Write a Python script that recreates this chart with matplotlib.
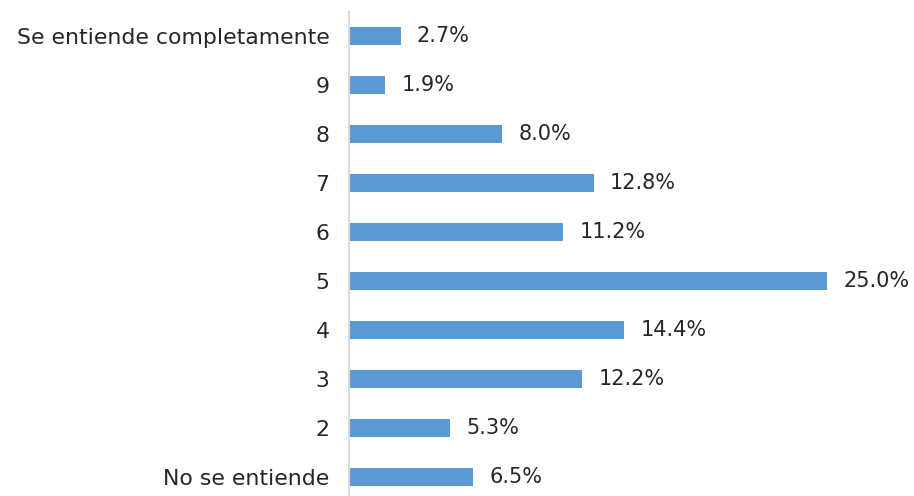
import matplotlib.pyplot as plt

categories = ['No se entiende', '2', '3', '4', '5', '6', '7', '8', '9', 'Se entiende completamente']
values = [6.5, 5.3, 12.2, 14.4, 25.0, 11.2, 12.8, 8.0, 1.9, 2.7]

plt.rcParams['font.family'] = ['DejaVu Sans']

fig = plt.figure(figsize=(9.14, 4.96), dpi=100)
px_per_pct = 478 / 25.0
left, right = 349, 905
top, bottom = 11.5, 501.5
ax = fig.add_axes([left / 914, (496 - bottom) / 496, (right - left) / 914, (bottom - top) / 496])

y = range(len(categories))
ax.barh(y, values, height=0.37, color='#5B9BD5')
ax.set_xlim(0, (right - left) / px_per_pct)
ax.set_ylim(-0.5, len(categories) - 0.5)

for yi, v in zip(y, values):
    ax.text(v + 0.85, yi, f'{v:.1f}%', va='center', ha='left', fontsize=15, color='#262626')

ax.set_yticks(list(y))
ax.set_yticklabels(categories, fontsize=15.8, color='#262626')
ax.tick_params(axis='y', length=0, pad=14)
ax.set_xticks([])
for s in ['top', 'right', 'bottom']:
    ax.spines[s].set_visible(False)
ax.spines['left'].set_color('#D9D9D9')
ax.spines['left'].set_linewidth(1.5)

fig.savefig('out.png', dpi=100)
